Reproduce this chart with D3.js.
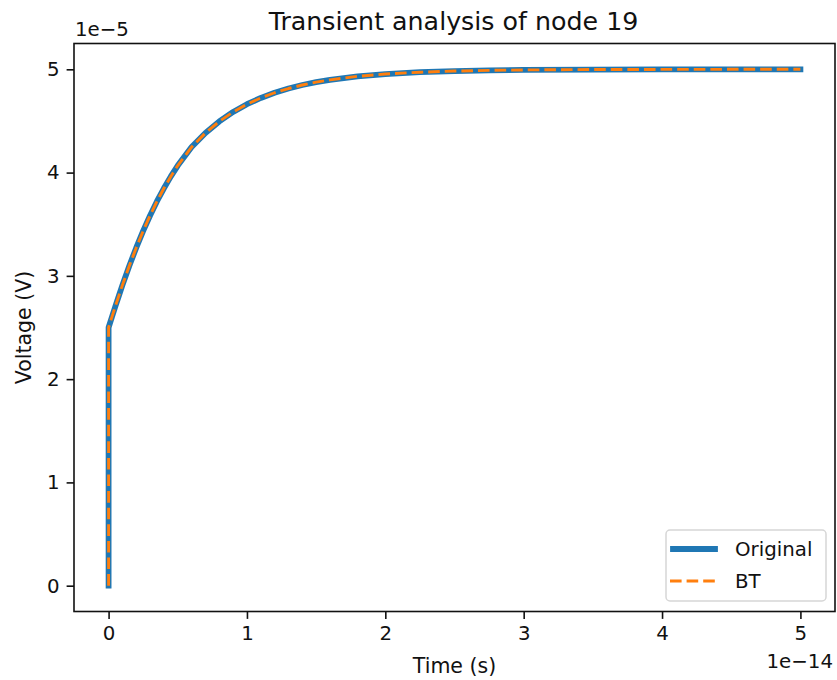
<!DOCTYPE html>
<html>
<head>
<meta charset="utf-8">
<script src="https://cdn.jsdelivr.net/npm/d3@7"></script>
<style>
	body { margin: 0; background: #fff; }
	svg text { font-family: "DejaVu Sans", sans-serif; fill: #111; }
</style>
</head>
<body>
<div id="chart"></div>
<script>
// time in seconds, voltage in volts
const time = [
	0, 0, 0.025e-14, 0.05e-14, 0.075e-14, 0.1e-14, 0.15e-14, 0.2e-14, 0.25e-14,
	0.3e-14, 0.35e-14, 0.4e-14, 0.45e-14, 0.5e-14, 0.6e-14, 0.7e-14, 0.8e-14,
	0.9e-14, 1.0e-14, 1.1e-14, 1.2e-14, 1.3e-14, 1.4e-14, 1.5e-14, 1.6e-14,
	1.8e-14, 2.0e-14, 2.25e-14, 2.5e-14, 2.75e-14, 3.0e-14, 3.5e-14, 4.0e-14,
	4.5e-14, 5.0e-14
];
const original = [
	0, 2.5e-5, 2.605e-5, 2.71e-5, 2.81e-5, 2.91e-5, 3.098e-5, 3.273e-5, 3.435e-5,
	3.585e-5, 3.723e-5, 3.848e-5, 3.963e-5, 4.068e-5, 4.247e-5, 4.384e-5, 4.495e-5,
	4.587e-5, 4.662e-5, 4.723e-5, 4.773e-5, 4.814e-5, 4.848e-5, 4.876e-5, 4.898e-5,
	4.932e-5, 4.954e-5, 4.972e-5, 4.983e-5, 4.99e-5, 4.994e-5, 4.998e-5, 4.999e-5,
	5.0e-5, 5.0e-5
];
const bt = [
	0, 2.5e-5, 2.605e-5, 2.71e-5, 2.81e-5, 2.91e-5, 3.098e-5, 3.273e-5, 3.435e-5,
	3.585e-5, 3.723e-5, 3.848e-5, 3.963e-5, 4.068e-5, 4.247e-5, 4.384e-5, 4.495e-5,
	4.587e-5, 4.662e-5, 4.723e-5, 4.773e-5, 4.814e-5, 4.848e-5, 4.876e-5, 4.898e-5,
	4.932e-5, 4.954e-5, 4.972e-5, 4.983e-5, 4.99e-5, 4.994e-5, 4.998e-5, 4.999e-5,
	5.0e-5, 5.0e-5
];
const xTicks = [0, 1e-14, 2e-14, 3e-14, 4e-14, 5e-14];
const yTicks = [0, 1e-5, 2e-5, 3e-5, 4e-5, 5e-5];
const seriesNames = ["Original", "BT"];

const ctx = {
	width: 837,
	height: 680,
	left: 74,
	right: 835,
	top: 43.5,
	bottom: 611.5,
	FONT: 19.8,
};

const svg = d3.select("#chart")
	.append("svg")
	.attr("width", ctx.width)
	.attr("height", ctx.height);

const xscale = d3.scaleLinear()
	.domain([-0.25e-14, 5.25e-14])
	.range([ctx.left, ctx.right]);
const yscale = d3.scaleLinear()
	.domain([-0.25e-5, 5.25e-5])
	.range([ctx.bottom, ctx.top]);

// axes
svg.append("g")
	.attr("class", "x-axis")
	.attr("transform", "translate(0," + ctx.bottom + ")")
	.call(d3.axisBottom(xscale)
		.tickValues(xTicks)
		.tickSize(7.4)
		.tickPadding(7)
		.tickFormat((d) => d3.format("d")(Math.round(d / 1e-14))));
svg.append("g")
	.attr("class", "y-axis")
	.attr("transform", "translate(" + ctx.left + ",0)")
	.call(d3.axisLeft(yscale)
		.tickValues(yTicks)
		.tickSize(7.4)
		.tickPadding(7)
		.tickFormat((d) => d3.format("d")(Math.round(d / 1e-5))));

svg.selectAll(".x-axis path.domain, .y-axis path.domain").remove();
svg.selectAll(".tick line").attr("stroke", "#111").attr("stroke-width", 1.6);
svg.selectAll(".tick text")
	.style("font-size", ctx.FONT + "px")
	.style("font-family", "DejaVu Sans")
	.attr("fill", "#111");

// spines
svg.append("rect")
	.attr("x", ctx.left)
	.attr("y", ctx.top)
	.attr("width", ctx.right - ctx.left)
	.attr("height", ctx.bottom - ctx.top)
	.attr("fill", "none")
	.attr("stroke", "#111")
	.attr("stroke-width", 1.6);

// lines
const points = time.map((t, i) => ({ t: t, o: original[i], b: bt[i] }));

svg.append("path")
	.datum(points)
	.attr("fill", "none")
	.attr("stroke", "#1f77b4")
	.attr("stroke-width", 5.8)
	.attr("stroke-linejoin", "round")
	.attr("stroke-linecap", "square")
	.attr("d", d3.line().x((d) => xscale(d.t)).y((d) => yscale(d.o)));

svg.append("path")
	.datum(points)
	.attr("fill", "none")
	.attr("stroke", "#ff7f0e")
	.attr("stroke-width", 2.9)
	.attr("stroke-linejoin", "round")
	.attr("stroke-dasharray", "11.6,5")
	.attr("d", d3.line().x((d) => xscale(d.t)).y((d) => yscale(d.b)));

// offset texts
svg.append("text")
	.style("font-size", ctx.FONT + "px")
	.attr("x", ctx.left + 1)
	.attr("y", 36)
	.text("1e\u22125");
svg.append("text")
	.style("font-size", ctx.FONT + "px")
	.attr("x", ctx.right - 2)
	.attr("y", 668)
	.attr("text-anchor", "end")
	.text("1e\u221214");

// labels
svg.append("text")
	.style("font-size", "20.5px")
	.attr("x", (ctx.left + ctx.right) / 2)
	.attr("y", 673)
	.attr("text-anchor", "middle")
	.text("Time (s)");
svg.append("text")
	.style("font-size", "20.5px")
	.attr("transform", "translate(31," + (ctx.top + ctx.bottom) / 2 + ") rotate(-90)")
	.attr("text-anchor", "middle")
	.text("Voltage (V)");
svg.append("text")
	.style("font-size", "25.3px")
	.attr("x", (ctx.left + ctx.right) / 2 - 1)
	.attr("y", 30)
	.attr("text-anchor", "middle")
	.text("Transient analysis of node 19");

// legend
const legend = svg.append("g").attr("class", "legend");
legend.append("rect")
	.attr("x", 666)
	.attr("y", 530)
	.attr("width", 160)
	.attr("height", 71)
	.attr("rx", 4)
	.attr("fill", "#fff")
	.attr("fill-opacity", 0.8)
	.attr("stroke", "#ccc")
	.attr("stroke-opacity", 0.8)
	.attr("stroke-width", 1.5);

const legendStyles = [
	{ color: "#1f77b4", width: 5.8, dash: null, cap: "square" },
	{ color: "#ff7f0e", width: 2.9, dash: "11.6,5", cap: "butt" },
];
seriesNames.forEach((name, i) => {
	const y = 549 + i * 32;
	const st = legendStyles[i];
	legend.append("line")
		.attr("x1", st.cap == "square" ? 673 : 670)
		.attr("x2", st.cap == "square" ? 715 : 718)
		.attr("y1", y)
		.attr("y2", y)
		.attr("stroke", st.color)
		.attr("stroke-width", st.width)
		.attr("stroke-linecap", st.cap)
		.attr("stroke-dasharray", st.dash);
	legend.append("text")
		.style("font-size", ctx.FONT + "px")
		.attr("x", 735)
		.attr("y", y + 7)
		.text(name);
});
</script>
</body>
</html>
